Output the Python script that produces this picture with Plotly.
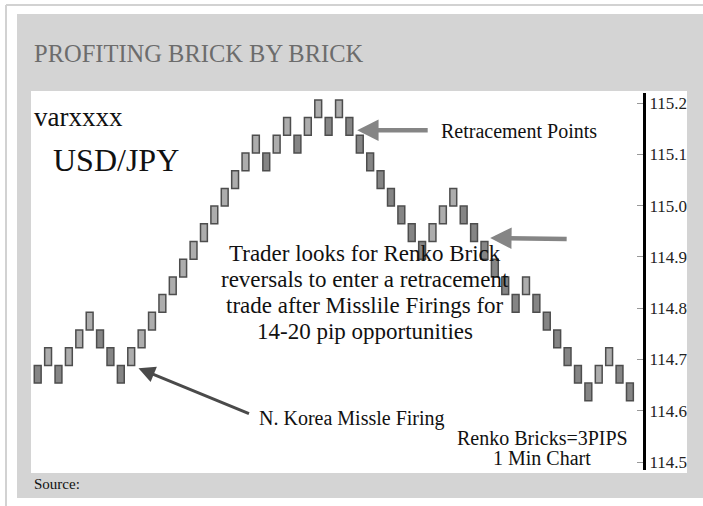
import plotly.graph_objects as go

# ---------------- data ----------------
# Renko brick levels (in bricks above the base level), read left to right
brick_levels = [0, 1, 0, 1, 2, 3, 2, 1, 0, 1, 2, 3, 4, 5, 6, 7, 8, 9, 10, 11,
                12, 13, 12, 13, 14, 13, 14, 15, 14, 15, 14, 13, 12, 11, 10, 9,
                8, 7, 8, 9, 10, 9, 8, 7, 6, 5, 4, 5, 4, 3, 2, 1, 0, -1, 0, 1,
                0, -1]
base_price = 114.654     # bottom of level-0 brick (USD/JPY)
brick_size = 0.0345      # price height of one brick as drawn
tick_values = [114.5, 114.6, 114.7, 114.8, 114.9, 115.0, 115.1, 115.2]
tick_labels = ["114.5", "114.6", "114.7", "114.8", "114.9", "115.0", "115.1", "115.2"]

brick_index = list(range(1, len(brick_levels) + 1))
brick_bottom = [base_price + lv * brick_size for lv in brick_levels]
brick_dir = ["down"] + ["up" if brick_levels[i] > brick_levels[i - 1] else "down"
                        for i in range(1, len(brick_levels))]

UP_FILL = "#adadad"
DOWN_FILL = "#858585"
colors = [UP_FILL if d == "up" else DOWN_FILL for d in brick_dir]

# ---------------- layout geometry (pixels) ----------------
W, H = 703, 506
L, R, T, B = 31, 643, 93, 470   # plot area in pixels


def px2x(px):
    return (px - L) / (R - L)


def py2y(py):
    return (B - py) / (B - T)


SERIF = "Liberation Serif, Times New Roman, serif"

fig = go.Figure()
fig.add_trace(go.Bar(
    x=brick_index,
    y=[brick_size] * len(brick_levels),
    base=brick_bottom,
    width=0.66,
    marker=dict(color=colors, line=dict(color="#4d4d4d", width=1.5)),
    hoverinfo="skip",
    showlegend=False,
))

shapes = [
    # outer thin border (left and top)
    dict(type="line", xref="paper", yref="paper",
         x0=px2x(6), x1=px2x(6), y0=py2y(506), y1=py2y(5),
         line=dict(color="#d2d2d2", width=2), layer="below"),
    dict(type="line", xref="paper", yref="paper",
         x0=px2x(6), x1=px2x(703), y0=py2y(5), y1=py2y(5),
         line=dict(color="#d2d2d2", width=2), layer="below"),
    # grey panel
    dict(type="rect", xref="paper", yref="paper",
         x0=px2x(17), x1=px2x(703), y0=py2y(498), y1=py2y(14),
         line=dict(width=0), fillcolor="#d4d4d4", layer="below"),
    # white chart area
    dict(type="rect", xref="paper", yref="paper",
         x0=px2x(31), x1=px2x(687), y0=py2y(473), y1=py2y(91),
         line=dict(width=0), fillcolor="white", layer="below"),
]


def label(text, px, py, size, anchor="left", color="#111"):
    return dict(text=text, x=px2x(px), y=py2y(py), xref="paper", yref="paper",
                xanchor=anchor, yanchor="middle", showarrow=False,
                font=dict(family=SERIF, size=size, color=color))


annotations = [
    label("PROFITING BRICK BY BRICK", 32, 53, 24.5, color="#6c6c6c"),
    label("varxxxx", 32, 117, 27),
    label("USD/JPY", 51, 160, 32),
    label("Retracement Points", 439, 131, 20),
    label("Trader looks for Renko Brick", 365, 253, 23, "center"),
    label("reversals to enter a retracement", 365, 279, 23, "center"),
    label("trade after Misslile Firings for", 365, 305, 23, "center"),
    label("14-20 pip opportunities", 365, 331, 23, "center"),
    label("N. Korea Missle Firing", 257, 418, 20),
    label("Renko Bricks=3PIPS", 542, 438, 20, "center"),
    label("1 Min Chart", 542, 458, 20, "center"),
    label("Source:", 32, 484, 15),
]

# arrows pointing at bricks (tip in data coords, tail offset in pixels)
arrows = [
    dict(x=31.75, y=115.147, ax=72, ay=0, arrowcolor="#858585", arrowwidth=4.5,
         arrowhead=2, arrowsize=0.95),
    dict(x=44.55, y=114.937, ax=78, ay=1, arrowcolor="#858585", arrowwidth=4.5,
         arrowhead=2, arrowsize=0.95),
    dict(x=10.7, y=114.683, ax=112, ay=46, arrowcolor="#4a4a4a", arrowwidth=3,
         arrowhead=2, arrowsize=1.1),
]
for a in arrows:
    a.update(xref="x", yref="y", text="", showarrow=True, standoff=0,
             axref="pixel", ayref="pixel")
annotations += arrows

fig.update_layout(
    width=W, height=H,
    margin=dict(l=L, r=W - R, t=T, b=H - B, pad=0),
    paper_bgcolor="white",
    plot_bgcolor="rgba(0,0,0,0)",
    shapes=shapes,
    annotations=annotations,
    bargap=0,
    xaxis=dict(range=[0.355, 59.26], visible=False, fixedrange=True),
    yaxis=dict(range=[114.4846, 115.2195], side="right", showgrid=False,
               zeroline=False, showline=True, linecolor="#000", linewidth=3,
               ticks="inside", ticklen=6, tickcolor="#999", tickwidth=1,
               tickvals=tick_values, ticktext=tick_labels,
               tickfont=dict(family=SERIF, size=17, color="#222"),
               fixedrange=True),
)

fig.write_html("out.html",
               config={"displayModeBar": False, "staticPlot": True},
               post_script="document.documentElement.style.overflow='hidden';"
                           "document.body.style.overflow='hidden';"
                           "document.body.style.margin='0px';"
                           "window.scrollTo(0,0);")
